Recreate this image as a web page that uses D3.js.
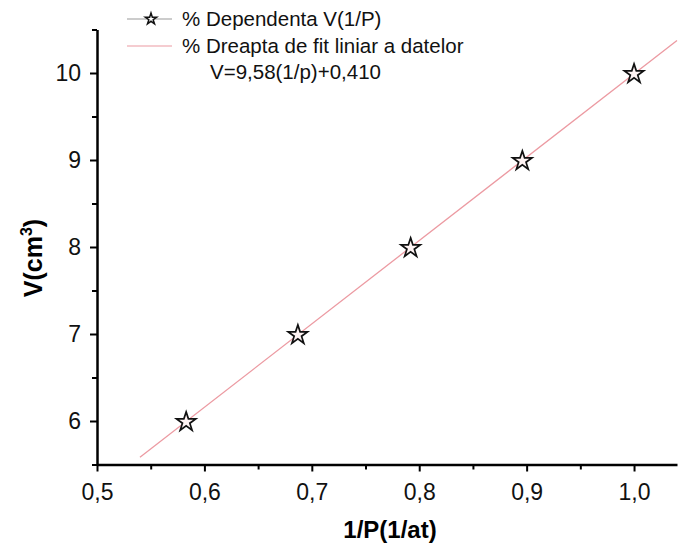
<!DOCTYPE html>
<html>
<head>
<meta charset="utf-8">
<script src="https://cdn.jsdelivr.net/npm/d3@7"></script>
<style>
  body { margin: 0; background: #fff; }
  svg { font-family: "Liberation Sans", Arial, sans-serif; }
</style>
</head>
<body>
<div id="chart"></div>
<script>
// Data
const invP = [0.583, 0.687, 0.792, 0.896, 1.0];
const volume = [6, 7, 8, 9, 10];
const fitSlope = 9.58;
const fitIntercept = 0.410;
const fitRange = [0.54, 1.04];
const xTicks = [0.5, 0.6, 0.7, 0.8, 0.9, 1.0];
const yTicks = [6, 7, 8, 9, 10];
const legendLabels = ['% Dependenta V(1/P)', '% Dreapta de fit liniar a datelor', 'V=9,58(1/p)+0,410'];

const width = 678, height = 547;
const svg = d3.select('#chart').append('svg')
    .attr('width', width)
    .attr('height', height);

// Scales
const xScale = d3.scaleLinear().domain([0.5, 1.04]).range([97, 677]);
const yScale = d3.scaleLinear().domain([5.5, 10.5]).range([464.5, 29.5]);

const fmt = d => d3.format('.1f')(d).replace('.', ',');

// X axis: minor ticks, then major ticks with labels
svg.append('g')
    .attr('transform', `translate(0, ${yScale(5.5)})`)
    .call(d3.axisBottom(xScale).tickValues(d3.range(0.55, 1.04, 0.1)).tickSize(5).tickFormat(''))
    .call(g => g.select('.domain').remove())
    .call(g => g.selectAll('line').attr('stroke-width', 2));
svg.append('g')
    .attr('transform', `translate(0, ${yScale(5.5)})`)
    .call(d3.axisBottom(xScale).tickValues(xTicks).tickSize(7).tickSizeOuter(0).tickPadding(12).tickFormat(fmt))
    .call(g => g.select('.domain').attr('stroke-width', 2.5))
    .call(g => g.selectAll('line').attr('stroke-width', 2))
    .call(g => g.selectAll('text').attr('font-size', 23).attr('fill', '#111'));

// Y axis
svg.append('g')
    .attr('transform', `translate(${xScale(0.5)}, 0)`)
    .call(d3.axisLeft(yScale).tickValues([5.5, 6.5, 7.5, 8.5, 9.5, 10.5]).tickSize(5).tickFormat(''))
    .call(g => g.select('.domain').remove())
    .call(g => g.selectAll('line').attr('stroke-width', 2));
svg.append('g')
    .attr('transform', `translate(${xScale(0.5)}, 0)`)
    .call(d3.axisLeft(yScale).tickValues(yTicks).tickSize(7).tickSizeOuter(0).tickPadding(9).tickFormat(d3.format('d')))
    .call(g => g.select('.domain').attr('stroke-width', 2.5))
    .call(g => g.selectAll('line').attr('stroke-width', 2))
    .call(g => g.selectAll('text').attr('font-size', 23).attr('fill', '#111'));

// Axis names
svg.append('text')
    .text('1/P(1/at)')
    .attr('x', 390).attr('y', 538)
    .attr('text-anchor', 'middle')
    .attr('font-size', 24).attr('font-weight', 'bold');
const yName = svg.append('text')
    .attr('transform', 'translate(42, 258) rotate(-90)')
    .attr('text-anchor', 'middle')
    .attr('font-size', 25).attr('font-weight', 'bold');
yName.append('tspan').text('V(cm');
yName.append('tspan').text('3').attr('font-size', 16).attr('dy', -10);
yName.append('tspan').text(')').attr('dy', 10);

// Fit line
const fitLine = d3.line()
    .x(d => xScale(d))
    .y(d => yScale(fitSlope * d + fitIntercept));
svg.append('path')
    .datum(fitRange)
    .attr('d', fitLine)
    .attr('fill', 'none')
    .attr('stroke', '#ec9aa2')
    .attr('stroke-width', 1.3);

// Star markers
const star = d3.symbol().type(d3.symbolStar).size(115);
svg.selectAll('.pt')
    .data(invP)
    .join('path')
    .attr('class', 'pt')
    .attr('d', star)
    .attr('transform', (d, i) => `translate(${xScale(d)}, ${yScale(volume[i]) + 1})`)
    .attr('fill', '#fff4f4')
    .attr('stroke', '#111')
    .attr('stroke-width', 1.7);

// Legend
const legend = svg.append('g');
legend.append('line')
    .attr('x1', 127).attr('x2', 172).attr('y1', 19).attr('y2', 19)
    .attr('stroke', '#999').attr('stroke-width', 1.2);
legend.append('path')
    .attr('d', d3.symbol().type(d3.symbolStar).size(40))
    .attr('transform', 'translate(151, 19)')
    .attr('fill', '#fff').attr('stroke', '#111').attr('stroke-width', 1.5);
legend.append('line')
    .attr('x1', 127).attr('x2', 172).attr('y1', 46).attr('y2', 46)
    .attr('stroke', '#ec9aa2').attr('stroke-width', 1.2);
legend.selectAll('.legend-text')
    .data(legendLabels)
    .join('text')
    .attr('class', 'legend-text')
    .text(d => d)
    .attr('x', (d, i) => i < 2 ? 182 : 210)
    .attr('y', (d, i) => 26 + i * 26.5)
    .attr('font-size', 20.5)
    .attr('fill', '#111');
</script>
</body>
</html>
